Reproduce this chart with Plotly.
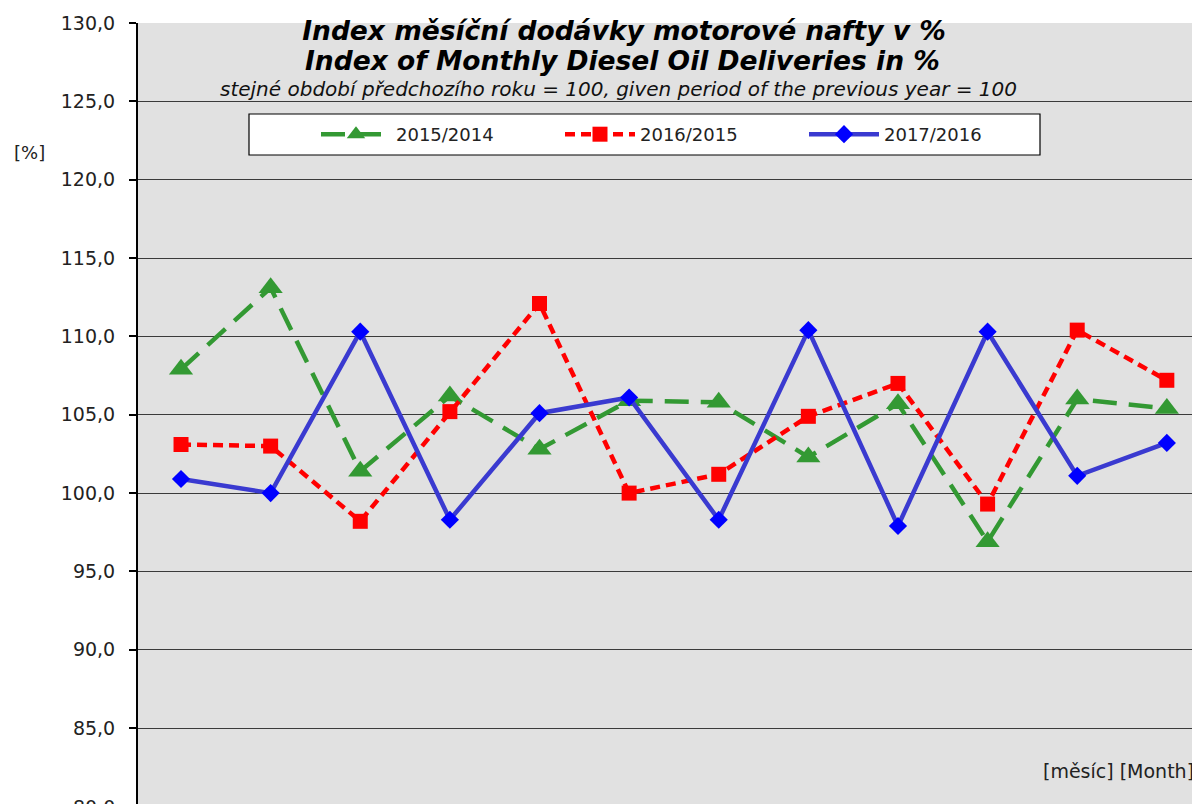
import plotly.graph_objects as go

months = list(range(1, 13))
idx_2015_2014 = [107.9, 113.1, 101.4, 106.2, 102.8, 105.9, 105.8, 102.3, 105.7, 96.9, 106.0, 105.4]
idx_2016_2015 = [103.1, 103.0, 98.2, 105.2, 112.1, 100.0, 101.2, 104.9, 107.0, 99.3, 110.4, 107.2]
idx_2017_2016 = [100.9, 100.0, 110.3, 98.3, 105.1, 106.1, 98.3, 110.4, 97.9, 110.3, 101.1, 103.2]
series_names = ["2015/2014", "2016/2015", "2017/2016"]
y_ticks = [80, 85, 90, 95, 100, 105, 110, 115, 120, 125, 130]

FONT = "DejaVu Sans, Arial, sans-serif"

# plot area in the 1200x804 viewport (page body has an 8px margin)
PL, PT, PR, PB = 138, 23, 1200, 804
PW, PH = PR - PL, PB - PT


def px(vx):
    return (vx - PL) / PW


def py(vy):
    return (PB - vy) / PH


fig = go.Figure()
fig.add_trace(go.Scatter(
    x=months, y=idx_2015_2014, name=series_names[0], mode="lines+markers",
    line=dict(color="#339933", width=4.5, dash="24px,12px"),
    marker=dict(symbol="triangle-up", size=21, color="#339933"),
))
fig.add_trace(go.Scatter(
    x=months, y=idx_2016_2015, name=series_names[1], mode="lines+markers",
    line=dict(color="#FF0000", width=4.5, dash="10px,6px"),
    marker=dict(symbol="square", size=15, color="#FF0000"),
))
fig.add_trace(go.Scatter(
    x=months, y=idx_2017_2016, name=series_names[2], mode="lines+markers",
    line=dict(color="#3A3AD0", width=4.5),
    marker=dict(symbol="diamond", size=14, color="#0000FF"),
))

fig.update_layout(
    width=1192, height=796,
    margin=dict(l=130, r=0, t=15, b=0),
    paper_bgcolor="white", plot_bgcolor="#E1E1E1",
    separators=", ",
    font=dict(family=FONT, color="#222222", size=18),
    title=dict(
        text="<b><i>Index měsíční dodávky motorové nafty v %</i></b>",
        font=dict(family=FONT, size=26.5, color="black"),
        x=px(624), xref="paper", xanchor="center",
        y=py(31), yref="paper", yanchor="middle",
    ),
    showlegend=True,
    legend=dict(
        orientation="h", x=px(316), xanchor="left", y=py(134.5), yanchor="middle",
        bgcolor="rgba(0,0,0,0)", borderwidth=0,
        font=dict(family=FONT, size=18, color="#222222"),
        itemwidth=70, entrywidth=159, entrywidthmode="pixels",
    ),
)

fig.update_xaxes(range=[0.52, 12.37], showticklabels=False, showgrid=False,
                 zeroline=False, showline=False, ticks="")
fig.update_yaxes(range=[130 - PH / 15.67, 130], tickvals=y_ticks, tickformat=".1f",
                 showgrid=True, gridcolor="#3a3a3a", gridwidth=1.3,
                 showline=True, linecolor="black", linewidth=2,
                 ticks="outside", ticklen=7, tickcolor="black", tickwidth=1.5,
                 ticklabelstandoff=10, zeroline=False,
                 tickfont=dict(family=FONT, size=19, color="#222222"))

# legend frame
fig.add_shape(type="rect", xref="paper", yref="paper",
              x0=px(249), x1=px(1040), y0=py(155), y1=py(114),
              fillcolor="white", line=dict(color="black", width=1.2), layer="below")

fig.add_annotation(text="<b><i>Index of Monthly Diesel Oil Deliveries in %</i></b>",
                   xref="paper", yref="paper", x=px(622), y=py(61),
                   xanchor="center", yanchor="middle", showarrow=False,
                   font=dict(family=FONT, size=26.5, color="black"))
fig.add_annotation(text="<i>stejné období předchozího roku = 100, given period of the previous year = 100</i>",
                   xref="paper", yref="paper", x=px(618), y=py(88.5),
                   xanchor="center", yanchor="middle", showarrow=False,
                   font=dict(family=FONT, size=20, color="#111111"))
fig.add_annotation(text="[%]", xref="paper", yref="paper",
                   x=px(29), y=py(152),
                   xanchor="center", yanchor="middle", showarrow=False,
                   font=dict(family=FONT, size=18, color="#222222"))
fig.add_annotation(text="[měsíc] [Month]", xref="paper", yref="paper",
                   x=px(1196), y=py(771), xanchor="right", yanchor="middle",
                   showarrow=False, font=dict(family=FONT, size=19, color="#222222"))
# tick label of the 80,0 gridline, which sits just below the visible area
fig.add_annotation(text="80,0", xref="paper", yref="paper",
                   x=px(117), y=py(807), xanchor="right", yanchor="middle",
                   showarrow=False, font=dict(family=FONT, size=19, color="#222222"))

fig.write_html("out.html")
